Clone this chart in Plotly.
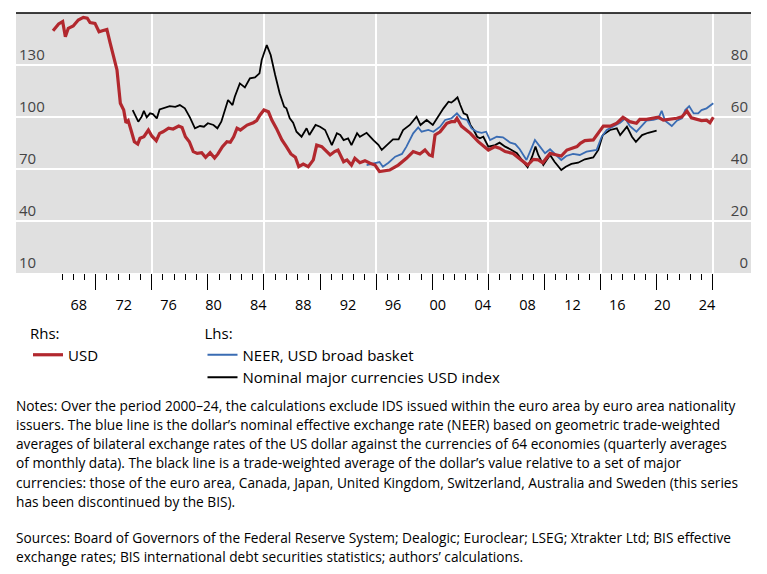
import plotly.graph_objects as go

# USD share (rhs)
usd_years = [1966.2, 1966.7, 1967.06, 1967.3, 1967.56, 1968.0, 1968.45, 1968.9, 1969.25, 1969.5,
             1969.94, 1970.3, 1970.6, 1971.0, 1971.3, 1971.6, 1971.9, 1972.2, 1972.5, 1972.7,
             1972.9, 1973.15, 1973.45, 1973.75, 1973.95, 1974.3, 1974.7, 1975.0, 1975.4, 1975.7,
             1976.0, 1976.5, 1976.9, 1977.4, 1977.7, 1978.0, 1978.35, 1978.7, 1979.05, 1979.45,
             1979.8, 1980.2, 1980.6, 1980.9, 1981.3, 1981.7, 1982.0, 1982.3, 1982.6, 1982.9,
             1983.5, 1984.05, 1984.35, 1984.65, 1985.0, 1985.4, 1985.7, 1986.1, 1986.6, 1987.0,
             1987.4, 1987.8, 1988.1, 1988.5, 1988.95, 1989.4, 1989.7, 1990.15, 1990.45, 1990.9,
             1991.3, 1991.6, 1992.1, 1992.4, 1992.8, 1993.1, 1993.55, 1994.0, 1994.45, 1994.9,
             1995.3, 1996.2, 1996.97, 1997.7, 1998.3, 1998.9, 1999.35, 1999.74, 2000.0, 2000.25,
             2000.7, 2001.3, 2001.7, 2002.0, 2002.2, 2002.6, 2003.4, 2004.1, 2005.0, 2005.6,
             2006.0, 2006.5, 2007.2, 2007.8, 2008.5, 2009.0, 2009.45, 2009.85, 2010.5, 2011.1,
             2011.5, 2012.0, 2012.4, 2012.9, 2013.2, 2013.6, 2014.35, 2014.8, 2015.25, 2015.85,
             2016.45, 2017.0, 2017.6, 2018.2, 2018.5, 2019.1, 2019.7, 2020.15, 2020.6, 2021.2,
             2021.8, 2022.25, 2022.7, 2023.1, 2023.6, 2024.0, 2024.45, 2024.75, 2025.05]
usd_vals = [93.2, 95.8, 96.7, 90.9, 94.1, 95.0, 97.3, 98.3, 98.0, 96.3,
            96.0, 92.8, 93.2, 93.7, 88.3, 82.6, 78.1, 65.3, 62.7, 57.8,
            58.6, 55.0, 50.5, 49.6, 51.8, 52.4, 55.0, 52.7, 50.9, 53.7,
            54.3, 55.7, 55.4, 56.5, 56.0, 52.4, 50.5, 46.7, 46.0, 46.3,
            44.5, 46.3, 44.2, 45.8, 48.6, 50.5, 50.3, 52.4, 55.7, 55.0,
            56.9, 57.8, 58.6, 60.8, 62.7, 62.0, 58.8, 55.7, 51.2, 48.6,
            45.8, 44.5, 40.9, 41.9, 40.9, 43.5, 49.2, 48.6, 47.3, 45.4,
            46.7, 47.3, 42.8, 43.5, 41.5, 44.1, 42.4, 43.2, 42.2, 41.5,
            39.0, 39.6, 41.5, 44.1, 46.7, 45.8, 47.3, 45.4, 45.0, 53.1,
            54.3, 57.6, 58.2, 58.2, 59.5, 56.5, 53.7, 50.5, 47.3, 48.6,
            48.0, 46.7, 46.0, 44.1, 41.5, 43.7, 43.5, 42.4, 46.0, 45.4,
            45.0, 47.3, 48.0, 48.6, 49.9, 50.9, 51.2, 53.7, 56.5, 56.5,
            57.6, 59.9, 58.2, 57.6, 59.1, 59.1, 59.5, 59.9, 58.8, 59.1,
            59.5, 60.1, 62.3, 59.7, 59.1, 58.6, 58.8, 57.8, 59.9]

# NEER, USD broad basket (lhs)
neer_years = [1994.15, 1994.75, 1995.3, 1995.6, 1996.1, 1996.7, 1997.3, 1997.7, 1998.3, 1998.75,
              1999.05, 1999.65, 2000.1, 2000.7, 2001.15, 2001.7, 2002.2, 2002.6, 2003.1, 2003.5,
              2003.95, 2004.4, 2004.8, 2005.15, 2005.75, 2006.3, 2006.95, 2007.4, 2007.8, 2008.4,
              2008.95, 2009.15, 2009.6, 2010.05, 2010.5, 2010.9, 2011.5, 2011.95, 2012.55, 2013.15,
              2013.75, 2014.65, 2015.1, 2015.55, 2016.15, 2016.75, 2017.2, 2017.6, 2018.2, 2018.7,
              2019.1, 2019.7, 2020.15, 2020.45, 2020.75, 2021.35, 2021.8, 2022.25, 2022.55, 2022.9,
              2023.3, 2023.7, 2024.0, 2024.45, 2025.05]
neer_vals = [72.3, 73.3, 74.0, 71.3, 73.6, 77.1, 78.7, 82.9, 90.6, 94.0,
             91.5, 92.5, 91.5, 94.4, 98.3, 99.2, 102.1, 99.2, 98.3, 93.5,
             91.5, 90.9, 91.5, 86.7, 88.6, 88.3, 85.2, 84.4, 81.4, 75.2,
             82.9, 86.7, 82.9, 79.1, 81.4, 79.1, 75.2, 77.5, 78.7, 78.1,
             80.0, 81.0, 88.6, 92.5, 94.8, 96.7, 99.2, 94.8, 91.5, 95.4,
             97.9, 98.3, 99.2, 103.6, 97.9, 94.8, 97.9, 99.2, 104.0, 106.3,
             102.1, 102.1, 104.0, 105.0, 107.9]

# Nominal major currencies USD index (lhs)
major_years = [1973.3, 1973.8, 1974.1, 1974.3, 1974.55, 1974.85, 1975.1, 1975.45, 1975.7, 1976.2,
               1976.6, 1977.1, 1977.5, 1977.95, 1978.4, 1978.85, 1979.3, 1979.65, 1980.0, 1980.5,
               1980.85, 1981.2, 1981.8, 1982.2, 1982.4, 1982.85, 1983.3, 1983.75, 1984.2, 1984.6,
               1984.8, 1985.25, 1985.6, 1986.0, 1986.4, 1986.8, 1987.0, 1987.3, 1987.6, 1987.9,
               1988.35, 1988.8, 1989.05, 1989.6, 1990.0, 1990.45, 1990.7, 1991.05, 1991.5, 1991.8,
               1992.1, 1992.5, 1992.8, 1993.3, 1993.55, 1994.15, 1994.75, 1995.2, 1995.5, 1995.95,
               1996.5, 1997.0, 1997.4, 1998.0, 1998.6, 1998.95, 1999.5, 2000.05, 2000.4, 2001.0,
               2001.45, 2001.7, 2002.0, 2002.25, 2002.5, 2002.8, 2003.1, 2003.4, 2003.7, 2004.0,
               2004.25, 2004.55, 2005.0, 2005.6, 2006.0, 2006.5, 2006.95, 2007.55, 2008.1, 2008.5,
               2008.9, 2009.2, 2009.45, 2009.9, 2010.5, 2010.9, 2011.5, 2011.9, 2012.4, 2013.0,
               2013.6, 2014.35, 2014.8, 2015.2, 2015.85, 2016.45, 2016.75, 2017.35, 2017.8, 2018.15,
               2018.7, 2019.25, 2020.0]
major_vals = [104.0, 97.3, 100.2, 103.5, 99.8, 102.1, 101.7, 99.2, 104.4, 105.6,
              106.3, 105.9, 106.9, 105.0, 99.8, 93.5, 94.8, 94.4, 96.4, 95.4,
              93.5, 97.3, 109.8, 106.9, 111.7, 119.4, 117.1, 122.3, 122.9, 125.2,
              132.9, 141.5, 135.8, 124.2, 113.7, 105.9, 105.0, 99.2, 96.7, 91.5,
              88.6, 93.5, 89.6, 95.4, 94.4, 92.5, 88.6, 83.8, 90.6, 89.6,
              86.7, 87.7, 83.8, 90.6, 88.6, 90.9, 86.7, 84.0, 81.0, 83.8,
              87.1, 87.1, 92.5, 95.4, 100.2, 95.4, 98.3, 95.4, 99.2, 105.0,
              108.8, 108.3, 109.8, 111.3, 106.9, 102.1, 101.2, 95.4, 92.5, 88.6,
              87.7, 88.6, 82.9, 83.8, 85.2, 82.9, 81.4, 79.1, 74.2, 71.0,
              77.1, 82.9, 78.1, 72.3, 78.1, 74.2, 69.4, 71.3, 72.9, 73.6,
              75.6, 76.7, 81.0, 89.6, 92.5, 93.5, 89.6, 94.4, 88.6, 85.7,
              89.6, 90.9, 92.1]

lhs_ticks = [10, 40, 70, 100, 130]
rhs_ticks = [0, 20, 40, 60, 80]
label_years = list(range(1968, 2025, 4))
label_text = [str(y)[2:] for y in label_years]

notes_lines = [
    "Notes: Over the period 2000–24, the calculations exclude IDS issued within the euro area by euro area nationality",
    "issuers. The blue line is the dollar’s nominal effective exchange rate (NEER) based on geometric trade-weighted",
    "averages of bilateral exchange rates of the US dollar against the currencies of 64 economies (quarterly averages",
    "of monthly data). The black line is a trade-weighted average of the dollar’s value relative to a set of major",
    "currencies: those of the euro area, Canada, Japan, United Kingdom, Switzerland, Australia and Sweden (this series",
    "has been discontinued by the BIS).",
]
sources_lines = [
    "Sources: Board of Governors of the Federal Reserve System; Dealogic; Euroclear; LSEG; Xtrakter Ltd; BIS effective",
    "exchange rates; BIS international debt securities statistics; authors’ calculations.",
]

assert len(usd_years) == len(usd_vals)
assert len(neer_years) == len(neer_vals)
assert len(major_years) == len(major_vals)

FONT = "Open Sans"
RED = "#b2282e"
BLUE = "#3a6cb3"

# the page body has an 8px margin, so the figure is a bit smaller than the window
W, H = 751, 558
L, R, T, B = 8, 8, 5, 293
plot_w = W - L - R
plot_h = H - T - B


# window pixel -> paper coords
def px(x):
    return (x - 8 - L) / plot_w


def py(y):
    return (H - B - (y - 8)) / plot_h


fig = go.Figure()

fig.add_trace(go.Scatter(x=major_years, y=major_vals, mode="lines",
                         line=dict(color="black", width=1.8),
                         name="Nominal major currencies USD index", legend="legend2",
                         legendrank=2))
fig.add_trace(go.Scatter(x=neer_years, y=neer_vals, mode="lines", xaxis="x2",
                         line=dict(color=BLUE, width=1.8),
                         name="NEER, USD broad basket", legend="legend2", legendrank=1))
fig.add_trace(go.Scatter(x=usd_years, y=usd_vals, mode="lines", xaxis="x3", yaxis="y2",
                         line=dict(color=RED, width=3.2),
                         name="USD", legend="legend"))

x_range = [1962.9, 2028.41]

fig.update_layout(
    width=W, height=H,
    margin=dict(l=L, r=R, t=T, b=B),
    paper_bgcolor="white",
    plot_bgcolor="#e0e0e0",
    font=dict(family=FONT, size=15, color="black"),
    xaxis=dict(
        range=x_range, tickmode="array", tickvals=list(range(1975, 2026, 10)),
        ticks="outside", ticklen=16, tickcolor="black", tickwidth=1,
        showticklabels=False, showgrid=True, gridcolor="white", gridwidth=1.5,
        zeroline=False, showline=False,
        minor=dict(tickmode="array", tickvals=list(range(1967, 2026)),
                   ticks="outside", ticklen=6, tickcolor="black", tickwidth=1, showgrid=False),
    ),
    xaxis2=dict(
        range=x_range, overlaying="x", anchor="y", side="bottom",
        tickmode="array", tickvals=list(range(1970, 2021, 10)),
        ticks="outside", ticklen=16, tickcolor="black", tickwidth=1,
        showticklabels=False, showgrid=False, zeroline=False,
    ),
    xaxis3=dict(
        range=x_range, overlaying="x", anchor="y2", side="bottom",
        tickmode="array", tickvals=[y + 0.5 for y in label_years], ticktext=label_text,
        ticks="outside", ticklen=19, tickcolor="rgba(0,0,0,0)",
        tickfont=dict(size=14.5), showgrid=False, zeroline=False,
    ),
    yaxis=dict(
        range=[10, 160], tickmode="array", tickvals=lhs_ticks,
        ticklabelposition="inside top", ticks="", showgrid=True,
        gridcolor="white", gridwidth=1.5, zeroline=False, tickfont=dict(size=15),
    ),
    yaxis2=dict(
        range=[0, 100], tickmode="array", tickvals=rhs_ticks, overlaying="y", side="right",
        ticklabelposition="inside top", ticks="", showgrid=False, zeroline=False,
        tickfont=dict(size=15),
    ),
    legend=dict(
        x=px(28), y=py(319), xanchor="left", yanchor="top",
        orientation="v", bgcolor="rgba(0,0,0,0)",
        title=dict(text="Rhs:", side="top", font=dict(size=15)),
        font=dict(size=15), tracegroupgap=0,
    ),
    legend2=dict(
        x=px(202.5), y=py(319), xanchor="left", yanchor="top",
        orientation="v", bgcolor="rgba(0,0,0,0)", traceorder="normal",
        title=dict(text="Lhs:", side="top", font=dict(size=15)),
        font=dict(size=15), tracegroupgap=0,
    ),
    showlegend=True,
)

# top rule
fig.add_shape(type="line", xref="paper", yref="paper", x0=0, x1=1, y0=1, y1=1,
              line=dict(color="black", width=1.5))

note_font = dict(family=FONT, size=13.7, color="black")
for i, line in enumerate(notes_lines):
    fig.add_annotation(text=line, xref="paper", yref="paper", x=px(16), y=py(405 + i * 19.3),
                       xanchor="left", yanchor="middle", showarrow=False, font=note_font,
                       xshift=-2)
for i, line in enumerate(sources_lines):
    fig.add_annotation(text=line, xref="paper", yref="paper", x=px(16), y=py(537 + i * 19.3),
                       xanchor="left", yanchor="middle", showarrow=False, font=note_font,
                       xshift=-2)

fig.write_html("out.html")
